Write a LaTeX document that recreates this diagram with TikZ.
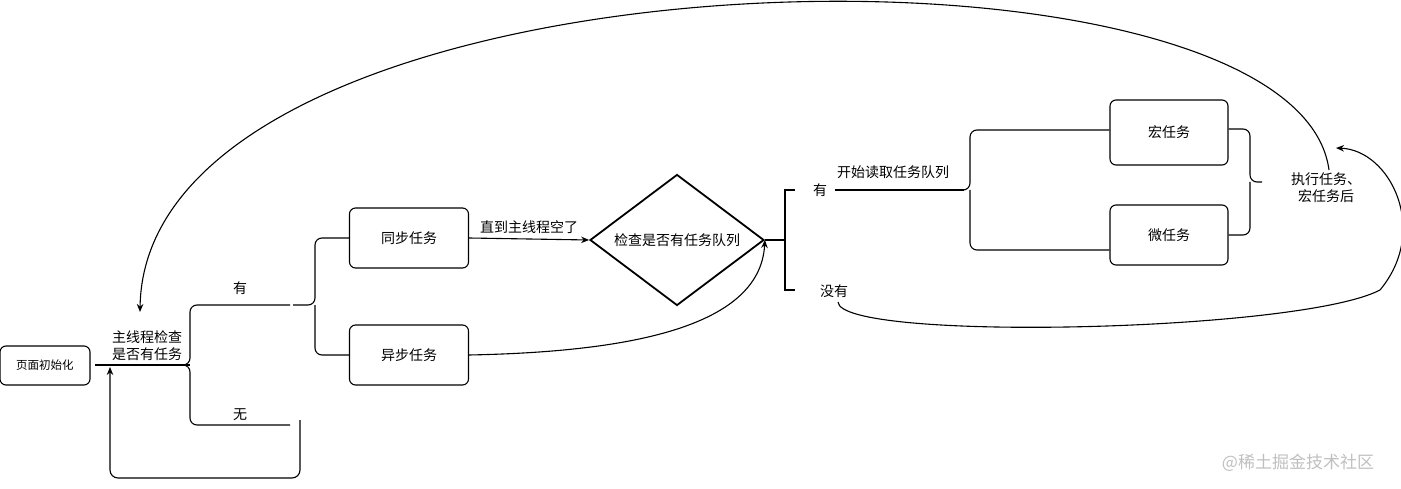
\documentclass[tikz,border=0pt]{standalone}
\usepackage{fontspec}
\setmainfont{Noto Sans CJK SC}
\usetikzlibrary{arrows.meta,shapes.geometric}
\begin{document}
\begin{tikzpicture}[x=1pt,y=-1pt,line width=1.1,
  box/.style={draw,rounded corners=6,minimum width=119,minimum height=60,font=\fontsize{14}{16}\selectfont,inner sep=0},
  lbl/.style={font=\fontsize{14}{17}\selectfont,inner sep=1,align=center},
  arr/.style={-{Stealth[length=8,width=6.5]}},
  brace/.style={rounded corners=7}]
\useasboundingbox (0,0) rectangle (1401,489);
\node[box,minimum width=90,minimum height=39,font=\fontsize{11.5}{13}\selectfont] (init) at (45,365.5) {页面初始化};
\node[lbl] (check) at (147,346) {主线程检查\\是否有任务};
\coordinate (c1) at (95,365);
\coordinate (b1) at (190,365);
\draw (c1) -- (b1);
\draw[brace] (290,305) -- (190,305) -- (190,365) -- (184,365);
\draw[brace] (290,425) -- (190,425) -- (190,365) -- (184,365);
\node[lbl] (you1) at (240,288) {有};
\node[lbl] (wu) at (240,415) {无};
\coordinate (w1) at (300,420);
\coordinate (w2) at (110,478);
\coordinate (w3) at (110,367);
\draw[arr,rounded corners=8] (w1) |- (w2) -- (w3);
\node[box] (sync) at (409,238) {同步任务};
\node[box] (async) at (409,355) {异步任务};
\draw[brace] (sync.west) -- (315,238) -- (315,305) -- (293,305);
\draw[brace] (async.west) -- (315,355) -- (315,305);
\node[draw,line width=1.8,diamond,shape aspect=1.33,minimum width=174,minimum height=131,inner sep=0] (dia) at (677,240) {};
\node[lbl] at (dia) {检查是否有任务队列};
\draw[arr] (sync.east) -- (dia.west) node[lbl,midway,above=4] {直到主线程空了};
\draw[arr] (async.east) .. controls (620,352) and (760,330) .. (dia.east);
\coordinate (dj) at (785,240);
\draw[line width=1.8] (dia.east) -- (dj);
\draw[line width=1.8] (795,190) -- (785,190) -- (785,290) -- (795,290);
\node[lbl] (you2) at (820,190) {有};
\node[lbl] (meiyou) at (834,291) {没有};
\node[lbl] at (893,172) {开始读取任务队列};
\draw (835,190) -- (964,190);
\node[box,minimum width=118,minimum height=65] (macro) at (1169,132.5) {宏任务};
\node[box,minimum width=118,minimum height=60] (micro) at (1169,235) {微任务};
\draw[brace] (macro.west|-0,130) -- (970,130) -- (970,190) -- (964,190);
\draw[brace] (micro.west|-0,250) -- (970,250) -- (970,190);
\draw[brace] (macro.east|-0,129) -- (1250,129) -- (1250,182) -- (1262,182);
\draw[brace] (micro.east|-0,235) -- (1250,235) -- (1250,182);
\node[lbl] (exec) at (1326,188) {执行任务、\\宏任务后};
\draw[arr] (1329,170) .. controls (1295,-85) and (145,-60) .. (140,312);
\draw[arr] (838,302) .. controls (840,342) and (1300,332) .. (1380,290) .. controls (1430,230) and (1390,150) .. (1336,148);
\node[font=\fontsize{17}{19}\selectfont,text=black!25] (wm) at (1298,463) {@稀土掘金技术社区};
\end{tikzpicture}
\end{document}
